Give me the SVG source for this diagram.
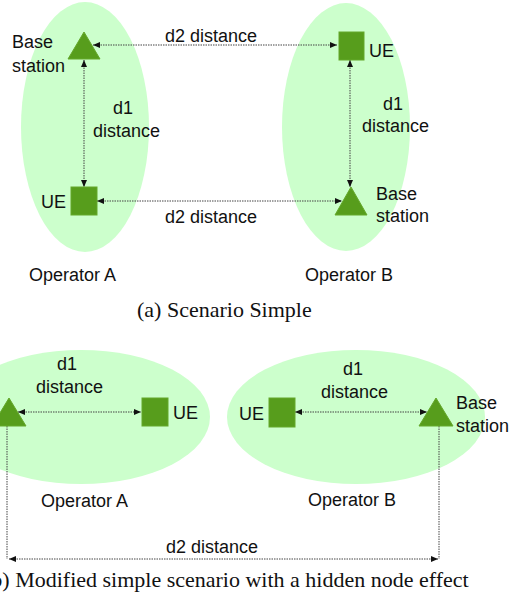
<svg xmlns="http://www.w3.org/2000/svg" width="525" height="597" viewBox="0 0 525 597">
  <style>
    .zone { fill: #ccffcc; }
    .bs { fill: #579d1c; stroke: #64a82a; stroke-width: 1; }
    .ue { fill: #579d1c; stroke: #64a82a; stroke-width: 1; }
    .lbl { font-family: "Liberation Sans", Arial, sans-serif; font-size: 18px; fill: #111; }
    .cap { font-family: "Liberation Serif", "Times New Roman", serif; font-size: 22px; fill: #111; }
    .link { fill: none; stroke: #444; stroke-width: 1; stroke-dasharray: 1.5 1; }
  </style>
  <defs>
    <marker id="tip" markerUnits="userSpaceOnUse" markerWidth="7" markerHeight="6" refX="7" refY="3" orient="auto-start-reverse">
      <path d="M0,0 L7,3 L0,6 z" fill="#111"/>
    </marker>
  </defs>

  <!-- Operator coverage areas -->
  <g id="zones">
    <ellipse id="zoneA1" class="zone" cx="85" cy="127" rx="64" ry="125"/>
    <ellipse id="zoneB1" class="zone" cx="346" cy="127" rx="64" ry="124"/>
    <ellipse id="zoneA2" class="zone" cx="81" cy="417" rx="129" ry="67"/>
    <ellipse id="zoneB2" class="zone" cx="356" cy="417" rx="129" ry="67"/>
  </g>

  <!-- Connectors -->
  <g id="connectors">
    <line class="link" x1="93" y1="45" x2="337" y2="45" marker-start="url(#tip)" marker-end="url(#tip)"/>
    <line class="link" x1="84" y1="60" x2="84" y2="187" marker-start="url(#tip)" marker-end="url(#tip)"/>
    <line class="link" x1="97" y1="201" x2="342" y2="201" marker-start="url(#tip)" marker-end="url(#tip)"/>
    <line class="link" x1="350" y1="60" x2="350" y2="187" marker-start="url(#tip)" marker-end="url(#tip)"/>
    <line class="link" x1="18" y1="412" x2="141" y2="412" marker-start="url(#tip)" marker-end="url(#tip)"/>
    <line class="link" x1="295" y1="412" x2="427" y2="412" marker-start="url(#tip)" marker-end="url(#tip)"/>
    <line class="link" x1="7" y1="426" x2="7" y2="559"/>
    <line class="link" x1="439" y1="426" x2="439" y2="559"/>
    <line class="link" x1="9" y1="559" x2="438" y2="559" marker-start="url(#tip)" marker-end="url(#tip)"/>
  </g>

  <!-- Scenario (a) -->
  <g id="bsA1">
    <polygon class="bs" points="84,32 68,59 100,59"/>
    <text class="lbl" x="12" y="48">Base</text>
    <text class="lbl" x="12" y="72">station</text>
  </g>
  <g id="ueA1">
    <rect class="ue" x="71" y="187" width="26" height="28"/>
    <text class="lbl" x="41" y="208">UE</text>
  </g>
  <g id="ueB1">
    <rect class="ue" x="339" y="32" width="25" height="28"/>
    <text class="lbl" x="369" y="57">UE</text>
  </g>
  <g id="bsB1">
    <polygon class="bs" points="351,187 335,215 367,215"/>
    <text class="lbl" x="376" y="200">Base</text>
    <text class="lbl" x="376" y="222">station</text>
  </g>
  <g id="labelsA">
    <text class="lbl" x="113" y="114">d1</text>
    <text class="lbl" x="93" y="137">distance</text>
    <text class="lbl" x="383" y="110">d1</text>
    <text class="lbl" x="362" y="132">distance</text>
    <text class="lbl" x="165" y="42">d2 distance</text>
    <text class="lbl" x="165" y="223">d2 distance</text>
    <text class="lbl" x="29" y="281">Operator A</text>
    <text class="lbl" x="305" y="281">Operator B</text>
    <text class="cap" x="137" y="317">(a) Scenario Simple</text>
  </g>

  <!-- Scenario (b) -->
  <g id="bsA2">
    <polygon class="bs" points="9,398 -8,426 26,426"/>
  </g>
  <g id="ueA2">
    <rect class="ue" x="142" y="398" width="26" height="28"/>
    <text class="lbl" x="173" y="419">UE</text>
  </g>
  <g id="ueB2">
    <rect class="ue" x="269" y="398" width="26" height="29"/>
    <text class="lbl" x="239" y="420">UE</text>
  </g>
  <g id="bsB2">
    <polygon class="bs" points="436,398 419,426 453,426"/>
    <text class="lbl" x="456" y="409">Base</text>
    <text class="lbl" x="456" y="432">station</text>
  </g>
  <g id="labelsB">
    <text class="lbl" x="57" y="370">d1</text>
    <text class="lbl" x="36" y="393">distance</text>
    <text class="lbl" x="343" y="375">d1</text>
    <text class="lbl" x="321" y="398">distance</text>
    <text class="lbl" x="41" y="507">Operator A</text>
    <text class="lbl" x="308" y="506">Operator B</text>
    <text class="lbl" x="166" y="553">d2 distance</text>
    <text class="cap" x="-16" y="587">(b) Modified simple scenario with a hidden node effect</text>
  </g>
</svg>
